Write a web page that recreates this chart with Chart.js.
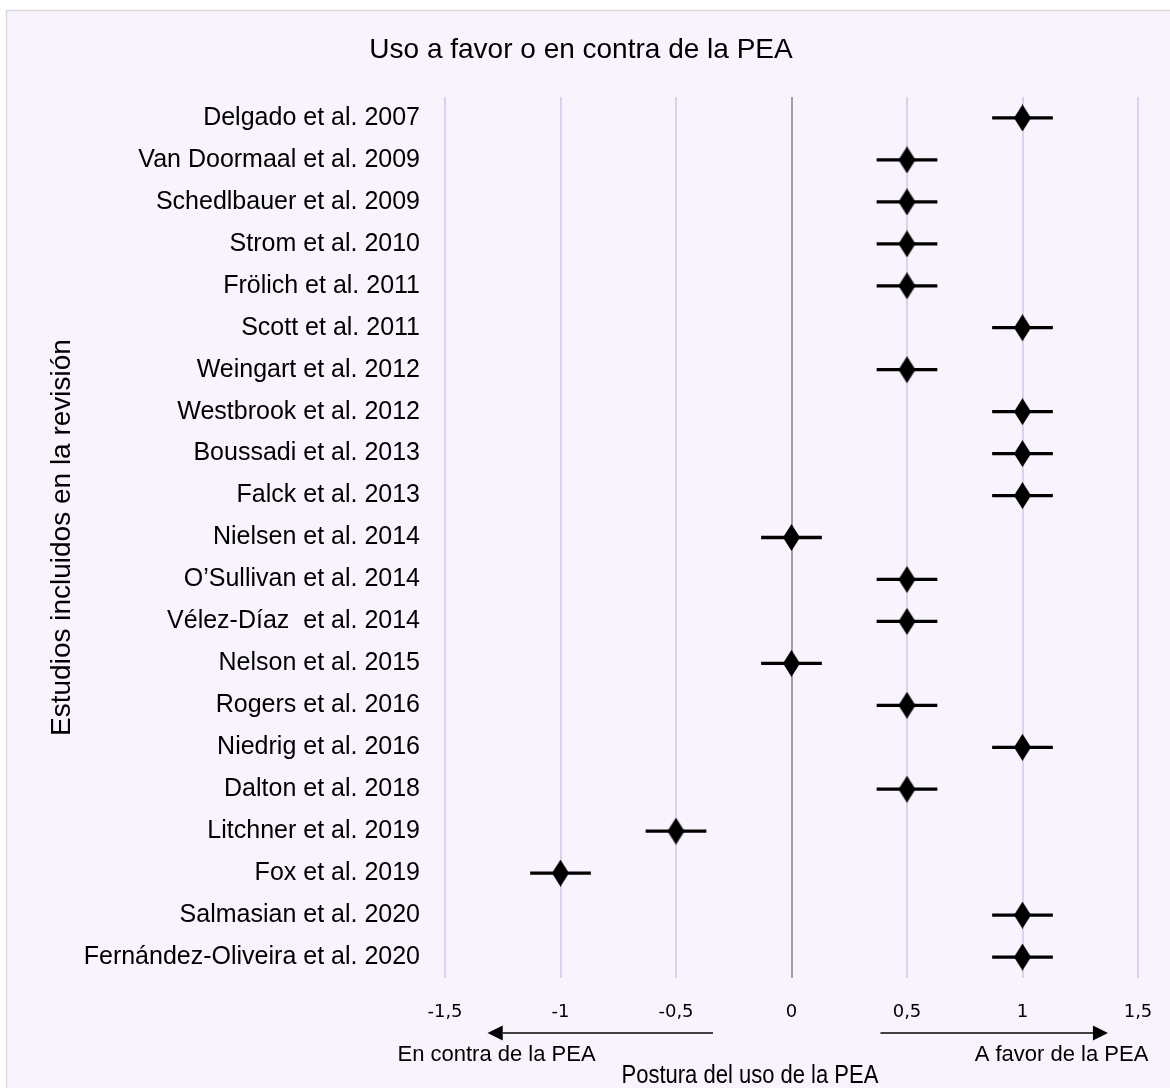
<!DOCTYPE html>
<html><head><meta charset="utf-8">
<script src="https://cdn.jsdelivr.net/npm/chart.js@4.4.1/dist/chart.umd.min.js"></script>
<style>html,body{margin:0;padding:0;background:#fff;} canvas{display:block;}</style>
</head><body>
<canvas id="c" width="1170" height="1088"></canvas>
<script>
const categories = [
  'Delgado et al. 2007',
  'Van Doormaal et al. 2009',
  'Schedlbauer et al. 2009',
  'Strom et al. 2010',
  'Frölich et al. 2011',
  'Scott et al. 2011',
  'Weingart et al. 2012',
  'Westbrook et al. 2012',
  'Boussadi et al. 2013',
  'Falck et al. 2013',
  'Nielsen et al. 2014',
  'O\u2019Sullivan et al. 2014',
  'Vélez-Díaz  et al. 2014',
  'Nelson et al. 2015',
  'Rogers et al. 2016',
  'Niedrig et al. 2016',
  'Dalton et al. 2018',
  'Litchner et al. 2019',
  'Fox et al. 2019',
  'Salmasian et al. 2020',
  'Fernández-Oliveira et al. 2020'
];
const postura = [1, 0.5, 0.5, 0.5, 0.5, 1, 0.5, 1, 1, 1, 0, 0.5, 0.5, 0, 0.5, 1, 0.5, -0.5, -1, 1, 1];
const errorMargin = [0.13, 0.13, 0.13, 0.13, 0.13, 0.13, 0.13, 0.13, 0.13, 0.13, 0.13, 0.13, 0.13, 0.13, 0.13, 0.13, 0.13, 0.13, 0.13, 0.13, 0.13];
const xTicks = [-1.5, -1, -0.5, 0, 0.5, 1, 1.5];
const chartTitle = 'Uso a favor o en contra de la PEA';
const xTitle = 'Postura del uso de la PEA';
const yTitle = 'Estudios incluidos en la revisión';
const arrowLabels = ['En contra de la PEA', 'A favor de la PEA'];

// diamond marker image
const diamond = document.createElement('canvas');
diamond.width = 17; diamond.height = 27;
(function(){
  const g = diamond.getContext('2d');
  g.fillStyle = '#000';
  g.beginPath();
  g.moveTo(8.5, 0); g.lineTo(17, 13.5); g.lineTo(8.5, 27); g.lineTo(0, 13.5);
  g.closePath(); g.fill();
})();

const bgPlugin = {
  id: 'bg',
  beforeDraw(chart) {
    const ctx = chart.ctx;
    ctx.save();
    ctx.fillStyle = '#ffffff';
    ctx.fillRect(0, 0, chart.width, chart.height);
    ctx.fillStyle = '#f8f3fd';
    ctx.fillRect(6, 10, chart.width - 6, chart.height - 10);
    ctx.strokeStyle = '#d9d9d9';
    ctx.lineWidth = 1.5;
    ctx.strokeRect(6.5, 10.5, chart.width + 10, chart.height + 10);
    ctx.fillStyle = '#000';
    ctx.font = '28px "Liberation Sans", Arial, sans-serif';
    ctx.textAlign = 'center';
    ctx.textBaseline = 'alphabetic';
    ctx.fillText(chartTitle, 581, 58);
    ctx.restore();
  }
};

const arrowPlugin = {
  id: 'arrows',
  afterDraw(chart) {
    const ctx = chart.ctx;
    const xs = chart.scales.x;
    const px = v => xs.getPixelForValue(v);
    const ay = 1033;
    ctx.save();
    ctx.strokeStyle = '#404040';
    ctx.lineWidth = 2;
    ctx.fillStyle = '#000';
    // left arrow
    ctx.beginPath();
    ctx.moveTo(px(-0.34), ay); ctx.lineTo(px(-1.25), ay); ctx.stroke();
    ctx.beginPath();
    ctx.moveTo(px(-1.316), ay); ctx.lineTo(px(-1.25), ay - 7.5); ctx.lineTo(px(-1.25), ay + 7.5); ctx.closePath(); ctx.fill();
    // right arrow
    ctx.beginPath();
    ctx.moveTo(px(0.385), ay); ctx.lineTo(px(1.31), ay); ctx.stroke();
    ctx.beginPath();
    ctx.moveTo(px(1.37), ay); ctx.lineTo(px(1.305), ay - 7.5); ctx.lineTo(px(1.305), ay + 7.5); ctx.closePath(); ctx.fill();
    // arrow labels
    ctx.font = '22px "Liberation Sans", Arial, sans-serif';
    ctx.textAlign = 'center';
    ctx.textBaseline = 'alphabetic';
    ctx.fillText(arrowLabels[0], px(-1.277), 1061);
    ctx.fillText(arrowLabels[1], px(1.169), 1061);
    // axis title (narrow)
    ctx.font = '26.5px "Liberation Sans", Arial, sans-serif';
    ctx.translate(px(-0.18), 1083);
    ctx.scale(0.83, 1);
    ctx.fillText(xTitle, 0, 0);
    ctx.restore();
  }
};

new Chart(document.getElementById('c'), {
  data: {
    labels: categories,
    datasets: [
      {
        type: 'line',
        label: 'Postura',
        indexAxis: 'y',
        data: postura,
        showLine: false,
        pointStyle: diamond,
        pointRadius: 13,
        pointHoverRadius: 13,
        order: 0
      },
      {
        type: 'bar',
        label: 'Margen',
        indexAxis: 'y',
        data: postura.map((v, i) => [v - errorMargin[i], v + errorMargin[i]]),
        backgroundColor: '#000',
        borderWidth: 0,
        barThickness: 2.6,
        order: 1
      }
    ]
  },
  options: {
    indexAxis: 'y',
    responsive: false,
    animation: false,
    events: [],
    layout: { padding: { left: 0, right: 32, top: 97, bottom: 0 } },
    plugins: {
      legend: { display: false },
      tooltip: { enabled: false },
      title: { display: false }
    },
    scales: {
      x: {
        type: 'linear',
        min: -1.5, max: 1.5,
        afterBuildTicks: s => { s.ticks = xTicks.map(v => ({ value: v })); },
        afterFit: s => { s.height = 110; s.paddingLeft = 0; s.paddingRight = 0; },
        ticks: {
          color: '#000',
          padding: 24,
          font: { family: '"DejaVu Sans", sans-serif', size: 18 },
          callback: v => String(v).replace('.', ',')
        },
        grid: {
          drawTicks: false,
          lineWidth: 2,
          color: c => (c.tick && c.tick.value === 0) ? '#a3a0a8' : '#ddd0ef'
        },
        border: { display: false }
      },
      y: {
        type: 'category',
        afterFit: s => { s.width = 445; },
        ticks: {
          color: '#000',
          padding: 25,
          autoSkip: false,
          font: { family: '"Liberation Sans", Arial, sans-serif', size: 25 }
        },
        grid: { display: false, drawTicks: false },
        border: { display: false },
        title: {
          display: true,
          text: yTitle,
          color: '#000',
          font: { family: '"Liberation Sans", Arial, sans-serif', size: 28 },
          padding: { top: 45, bottom: 0 }
        }
      }
    }
  },
  plugins: [bgPlugin, arrowPlugin]
});
</script>
</body></html>
